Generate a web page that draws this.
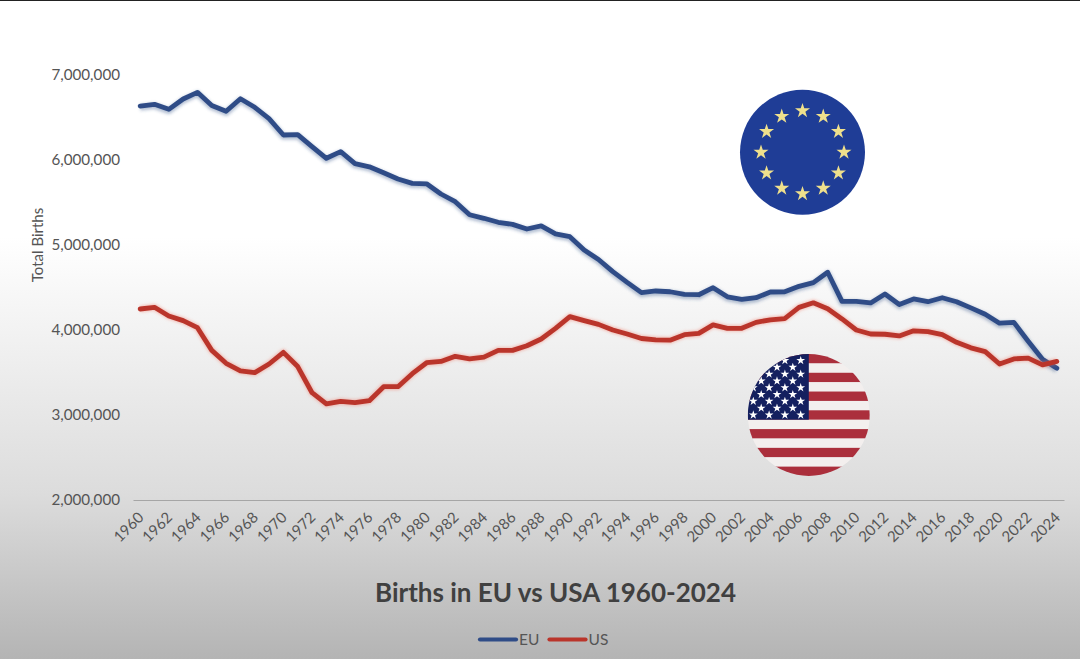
<!DOCTYPE html>
<html>
<head>
<meta charset="utf-8">
<script src="https://cdn.jsdelivr.net/npm/d3@7"></script>
<style>
  html, body { margin: 0; padding: 0; background: #fff; }
  svg { display: block; }
  text { font-family: Lato, 'Open Sans', sans-serif; fill: #555555; }
</style>
</head>
<body>
<div id="chart"></div>
<script>
const years = d3.range(1960, 2025)

const euBirths = [
  6635000, 6655000, 6596000, 6718000, 6796000, 6640000, 6573000, 6720000, 6620000, 6486000,
  6294000, 6298000, 6157000, 6020000, 6098000, 5957000, 5920000, 5850000, 5776000, 5725000,
  5720000, 5600000, 5510000, 5356000, 5314000, 5267000, 5243000, 5188000, 5224000, 5130000,
  5098000, 4940000, 4830000, 4686000, 4560000, 4440000, 4459000, 4450000, 4420000, 4415000,
  4498000, 4390000, 4360000, 4380000, 4447000, 4450000, 4514000, 4557000, 4680000, 4337000,
  4337000, 4318000, 4424000, 4300000, 4365000, 4333000, 4380000, 4333000, 4260000, 4185000,
  4080000, 4090000, 3867000, 3655000, 3550000
]

const usBirths = [
  4247000, 4267000, 4165000, 4110000, 4027000, 3760000, 3608000, 3520000, 3498000, 3600000,
  3737000, 3570000, 3262000, 3130000, 3160000, 3145000, 3168000, 3333000, 3333000, 3486000,
  3615000, 3630000, 3690000, 3660000, 3680000, 3760000, 3760000, 3815000, 3894000, 4020000,
  4157000, 4110000, 4066000, 4000000, 3953000, 3900000, 3885000, 3880000, 3945000, 3960000,
  4060000, 4020000, 4020000, 4090000, 4120000, 4135000, 4266000, 4320000, 4250000, 4130000,
  4000000, 3953000, 3950000, 3930000, 3990000, 3980000, 3945000, 3855000, 3790000, 3745000,
  3600000, 3660000, 3670000, 3590000, 3630000
]

const yTicks = [2000000, 3000000, 4000000, 5000000, 6000000, 7000000]
const xTicks = years.filter(d => d % 2 === 0)
const seriesNames = ['EU', 'US']

const width = 1080
const height = 659
const margin = { top: 75, left: 133, right: 16, bottom: 159 }
const colors = { EU: '#2f4c87', US: '#ba352b' }

const svg = d3
  .select('#chart')
  .append('svg')
  .attr('width', width)
  .attr('height', height)

const defs = svg.append('defs')

const bg = defs
  .append('linearGradient')
  .attr('id', 'bg')
  .attr('x1', '0%')
  .attr('y1', '0%')
  .attr('x2', '0%')
  .attr('y2', '100%')
bg.append('stop').attr('offset', '36%').attr('stop-color', '#ffffff')
bg.append('stop').attr('offset', '75%').attr('stop-color', '#dcdcdc')
bg.append('stop').attr('offset', '100%').attr('stop-color', '#b4b4b4')

const shadow = defs
  .append('filter')
  .attr('id', 'soft')
  .attr('x', '-5%')
  .attr('y', '-20%')
  .attr('width', '110%')
  .attr('height', '140%')
shadow.append('feGaussianBlur').attr('stdDeviation', 1.6)

svg.append('rect').attr('width', width).attr('height', height).attr('fill', 'url(#bg)')
svg.append('rect').attr('width', width).attr('height', 1).attr('fill', '#222')

const xScale = d3
  .scaleBand()
  .domain(years)
  .range([margin.left, width - margin.right])

const yScale = d3
  .scaleLinear()
  .domain([2000000, 7000000])
  .range([height - margin.bottom, margin.top])

const xAxis = d3
  .axisBottom(xScale)
  .tickValues(xTicks)
  .tickSize(0)

const yAxis = d3
  .axisLeft(yScale)
  .tickValues(yTicks)
  .tickSize(0)
  .tickFormat(d3.format(','))

const xG = svg
  .append('g')
  .attr('transform', 'translate(0,' + (height - margin.bottom) + ')')
  .call(xAxis)
xG.select('.domain').attr('stroke', '#a6a6a6').attr('stroke-width', 1.2)
xG.selectAll('text')
  .style('font-size', '15px')
  .attr('text-anchor', 'end')
  .attr('transform', 'translate(-3,11) rotate(-45)')
  .attr('dy', '0.7em')
  .attr('y', 0)

const yG = svg
  .append('g')
  .attr('transform', 'translate(' + margin.left + ',0)')
  .call(yAxis)
yG.select('.domain').remove()
yG.selectAll('text').style('font-size', '15.2px').attr('x', -13)

svg
  .append('text')
  .attr('transform', 'translate(43,245) rotate(-90)')
  .attr('text-anchor', 'middle')
  .style('font-size', '15px')
  .text('Total Births')

const line = d3
  .line()
  .x((d, i) => xScale(years[i]) + xScale.bandwidth() / 2)
  .y(d => yScale(d))

function drawSeries(values, color, haloColor, dy) {
  svg
    .append('path')
    .datum(values)
    .attr('d', line)
    .attr('fill', 'none')
    .attr('stroke', haloColor)
    .attr('stroke-width', 6.5)
    .attr('stroke-linejoin', 'round')
    .attr('transform', 'translate(0,' + dy + ')')
    .attr('filter', 'url(#soft)')
  svg
    .append('path')
    .datum(values)
    .attr('d', line)
    .attr('fill', 'none')
    .attr('stroke', color)
    .attr('stroke-width', 4.8)
    .attr('stroke-linejoin', 'round')
    .attr('stroke-linecap', 'round')
}

drawSeries(euBirths, colors.EU, 'rgba(47,76,135,0.35)', 1.5)
drawSeries(usBirths, colors.US, 'rgba(240,120,100,0.45)', 0)

// EU flag
const starPath = d3.symbol().type(d3.symbolStar)
const eu = svg.append('g').attr('transform', 'translate(802.5,152.3)')
eu.append('circle').attr('r', 62.5).attr('fill', '#1f3d96')
eu.selectAll('path')
  .data(d3.range(12))
  .join('path')
  .attr('d', starPath.size(70))
  .attr('fill', '#efe08c')
  .attr('transform', d => {
    const a = (d * Math.PI) / 6
    return 'translate(' + 41.5 * Math.sin(a) + ',' + -41.5 * Math.cos(a) + ')'
  })

// US flag, clipped to a circle
const usCx = 808.8
const usCy = 415
const usR = 61
defs
  .append('clipPath')
  .attr('id', 'us-clip')
  .append('circle')
  .attr('r', usR)
const us = svg
  .append('g')
  .attr('transform', 'translate(' + usCx + ',' + usCy + ')')
  .append('g')
  .attr('clip-path', 'url(#us-clip)')
const stripe = (2 * usR) / 13
us.selectAll('.stripe')
  .data(d3.range(13))
  .join('rect')
  .attr('class', 'stripe')
  .attr('x', -usR)
  .attr('y', d => -usR + d * stripe)
  .attr('width', 2 * usR)
  .attr('height', stripe + 0.2)
  .attr('fill', d => (d % 2 === 0 ? '#ab2f3c' : '#f3efee'))
us.append('rect')
  .attr('x', -usR)
  .attr('y', -usR)
  .attr('width', usR)
  .attr('height', stripe * 7)
  .attr('fill', '#14205f')
d3.range(9).forEach(r => {
  const cols = r % 2 === 0 ? [0, 2, 4, 6] : [1, 3, 5]
  cols.forEach(c => {
    us.append('path')
      .attr('d', starPath.size(24))
      .attr('fill', '#fff')
      .attr('transform', 'translate(' + (-55.5 + c * 7.9) + ',' + (-54.5 + r * 6.8) + ')')
  })
})

// title and legend
svg
  .append('text')
  .attr('x', 555.5)
  .attr('y', 602)
  .attr('text-anchor', 'middle')
  .style('font-size', '26px')
  .style('font-weight', 700)
  .style('fill', '#404040')
  .text('Births in EU vs USA 1960-2024')

const legend = svg
  .selectAll('.legend')
  .data(seriesNames)
  .join('g')
  .attr('class', 'legend')
  .attr('transform', (d, i) => 'translate(' + (480 + i * 69.5) + ',639.5)')
legend
  .append('line')
  .attr('x2', 36)
  .attr('stroke', d => colors[d])
  .attr('stroke-width', 4.2)
  .attr('stroke-linecap', 'round')
legend
  .append('text')
  .attr('x', 39)
  .attr('y', 5)
  .style('font-size', '15.5px')
  .text(d => d)
</script>
</body>
</html>
